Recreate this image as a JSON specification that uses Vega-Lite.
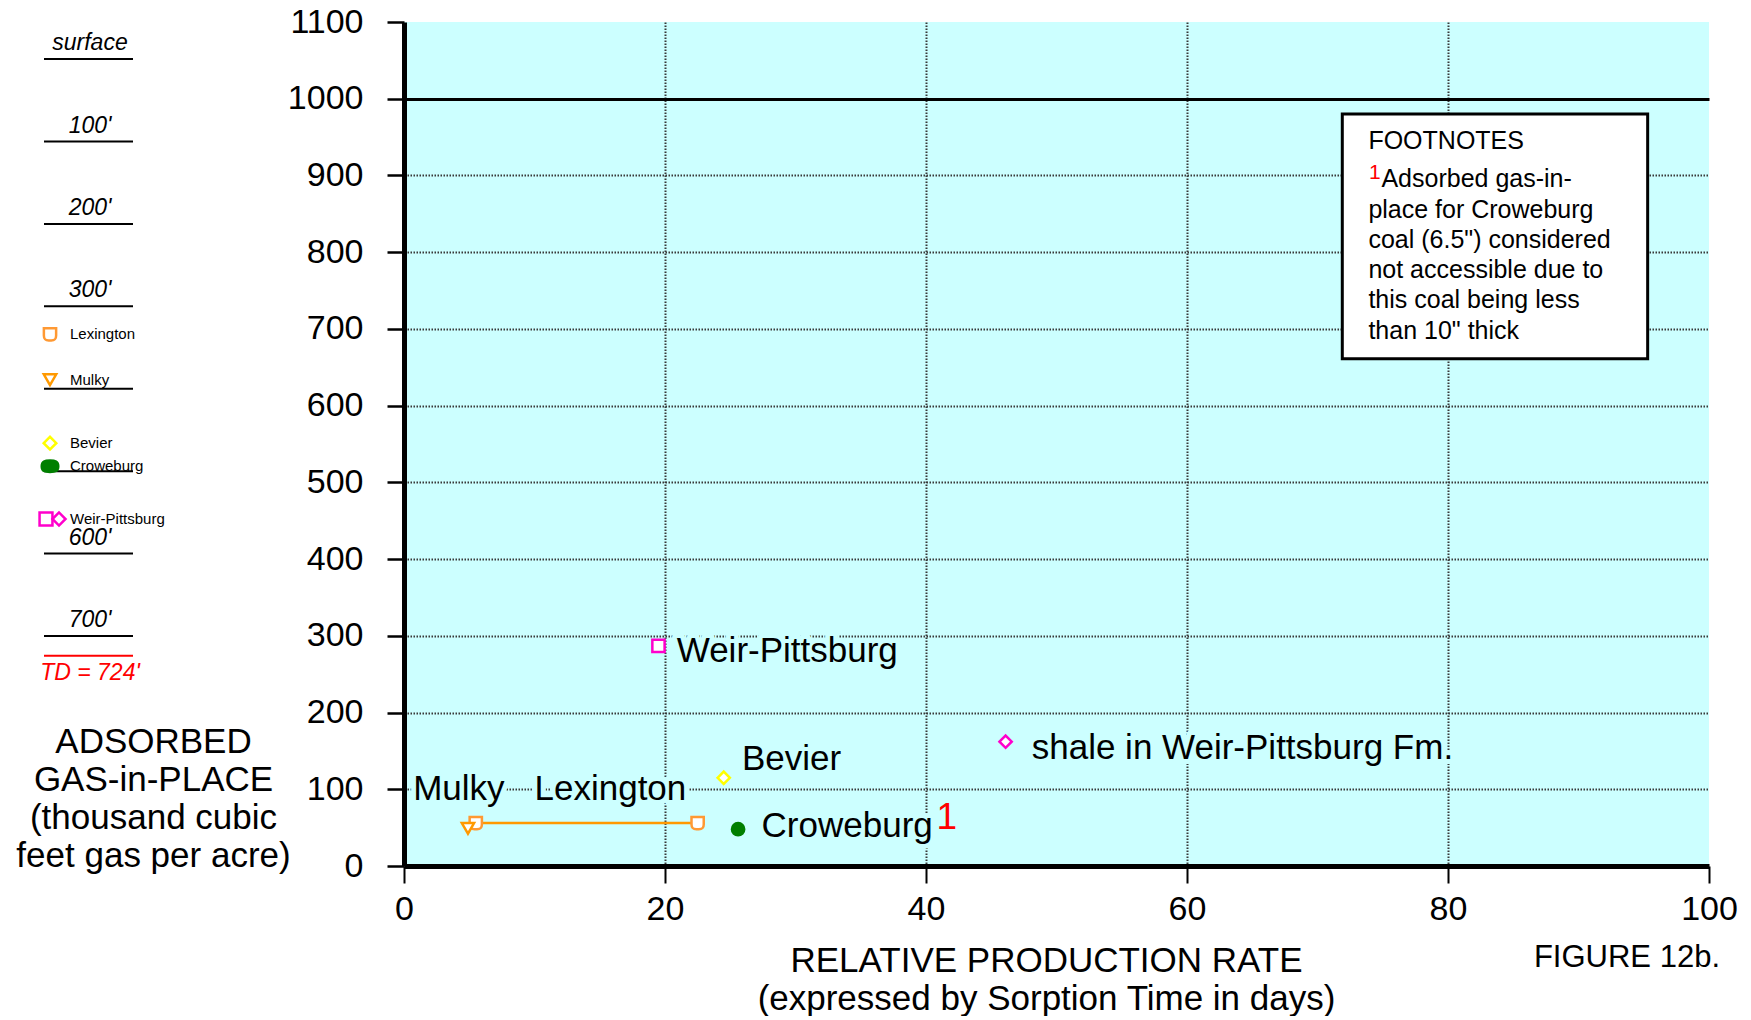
{
  "$schema": "https://vega.github.io/schema/vega-lite/v6.json",
  "background": "white",
  "padding": {"left": 15, "top": 5, "right": 0, "bottom": 0},
  "config": {"font": "Liberation Sans", "view": {"stroke": null}},
  "datasets": {
    "points": [
      {"seam": "Lexington", "time": 5.5, "gas": 56},
      {"seam": "Lexington", "time": 22.5, "gas": 56},
      {"seam": "Mulky", "time": 4.9, "gas": 49},
      {"seam": "Bevier", "time": 24.5, "gas": 115},
      {"seam": "Croweburg", "time": 25.6, "gas": 48},
      {"seam": "Weir-Pittsburg", "time": 19.5, "gas": 287},
      {"seam": "shale", "time": 46.1, "gas": 162}
    ],
    "labels": [
      {"text": "Weir-Pittsburg", "time": 20.9, "gas": 280, "kind": "label"},
      {"text": "shale in Weir-Pittsburg Fm.", "time": 48.1, "gas": 154, "kind": "label"},
      {"text": "Bevier", "time": 25.9, "gas": 140, "kind": "label"},
      {"text": "Mulky", "time": 0.7, "gas": 100, "kind": "label"},
      {"text": "Lexington", "time": 10.0, "gas": 100, "kind": "label"},
      {"text": "Croweburg", "time": 27.4, "gas": 52, "kind": "label"}
    ],
    "sup": [
      {"text": "1", "time": 40.8, "gas": 62}
    ],
    "box": [{"time": 71.9, "time2": 95.3, "gas": 661, "gas2": 980}],
    "notes": [
      {"text": "FOOTNOTES", "time": 73.9, "gas": 934.5, "kind": "line"},
      {"text": "Adsorbed gas-in-", "time": 74.9, "gas": 885, "kind": "line"},
      {"text": "place for Croweburg", "time": 73.9, "gas": 844.5, "kind": "line"},
      {"text": "coal (6.5\") considered", "time": 73.9, "gas": 805, "kind": "line"},
      {"text": "not accessible due to", "time": 73.9, "gas": 766, "kind": "line"},
      {"text": "this coal being less", "time": 73.9, "gas": 727, "kind": "line"},
      {"text": "than 10\" thick", "time": 73.9, "gas": 687, "kind": "line"},
      {"text": "1", "time": 73.95, "gas": 895, "kind": "mark"}
    ],
    "log": [
      {"depth": 0, "label": "surface", "kind": "line"},
      {"depth": 100, "label": "100'", "kind": "line"},
      {"depth": 200, "label": "200'", "kind": "line"},
      {"depth": 300, "label": "300'", "kind": "line"},
      {"depth": 400, "label": "", "kind": "line"},
      {"depth": 500, "label": "", "kind": "line"},
      {"depth": 600, "label": "600'", "kind": "line"},
      {"depth": 700, "label": "700'", "kind": "line"},
      {"depth": 724, "label": "TD = 724'", "kind": "td"}
    ],
    "seams": [
      {"seam": "Lexington", "name": "Lexington", "depth": 334},
      {"seam": "Mulky", "name": "Mulky", "depth": 389},
      {"seam": "Bevier", "name": "Bevier", "depth": 466},
      {"seam": "Croweburg", "name": "Croweburg", "depth": 494},
      {"seam": "Weir-Pittsburg", "name": "Weir-Pittsburg", "depth": 558},
      {"seam": "shale", "name": "", "depth": 558}
    ]
  },
  "bounds": "flush",
  "spacing": 271,
  "resolve": {"scale": {"color": "independent", "shape": "independent", "fill": "independent", "stroke": "independent", "size": "independent", "x": "independent", "y": "independent"}},
  "hconcat": [
    {
      "width": 89,
      "height": 844,
      "layer": [
        {
          "data": {"name": "log"},
          "mark": {"type": "rule", "strokeWidth": 2},
          "encoding": {
            "y": {"field": "depth", "type": "quantitative", "scale": {"domain": [-45, 979], "reverse": true, "nice": false, "zero": false}, "axis": null},
            "color": {"field": "kind", "type": "nominal", "scale": {"domain": ["line", "td"], "range": ["black", "#ff0000"]}, "legend": null}
          }
        },
        {
          "data": {"name": "log"},
          "transform": [{"filter": "datum.label !== ''"}],
          "mark": {"type": "text", "fontSize": 23, "fontStyle": "italic", "baseline": "alphabetic", "align": "center", "xOffset": 1.5, "dy": {"expr": "datum.kind === 'td' ? 24 : -9"}},
          "encoding": {
            "y": {"field": "depth", "type": "quantitative"},
            "text": {"field": "label"},
            "color": {"field": "kind", "type": "nominal", "scale": {"domain": ["line", "td"], "range": ["black", "#ff0000"]}, "legend": null}
          }
        },
        {
          "data": {"name": "seams"},
          "mark": {"type": "point", "filled": true, "opacity": 1, "strokeWidth": 2.5, "xOffset": {"expr": "datum.seam === 'Weir-Pittsburg' ? -42.5 : datum.seam === 'shale' ? -29.5 : -38.5"}},
          "encoding": {
            "y": {"field": "depth", "type": "quantitative"},
            "shape": {"field": "seam", "type": "nominal", "scale": {"domain": ["Lexington", "Mulky", "Bevier", "Croweburg", "Weir-Pittsburg", "shale"], "range": ["M-1,-1H1V0.2C1,0.8 0.8,1 0.2,1H-0.2C-0.8,1 -1,0.8 -1,0.2Z", "triangle-down", "diamond", "M-1.3,0C-1.3,-0.8 -0.8,-0.9 0,-0.9C0.8,-0.9 1.3,-0.8 1.3,0C1.3,0.8 0.8,0.9 0,0.9C-0.8,0.9 -1.3,0.8 -1.3,0Z", "square", "diamond"]}, "legend": null},
            "stroke": {"field": "seam", "type": "nominal", "scale": {"domain": ["Lexington", "Mulky", "Bevier", "Croweburg", "Weir-Pittsburg", "shale"], "range": ["#ff9933", "#ff9900", "#ffff00", "#007f00", "#ff00cc", "#ff00cc"]}, "legend": null},
            "fill": {"field": "seam", "type": "nominal", "scale": {"domain": ["Lexington", "Mulky", "Bevier", "Croweburg", "Weir-Pittsburg", "shale"], "range": ["white", "white", "white", "#007f00", "white", "white"]}, "legend": null},
            "size": {"field": "seam", "type": "nominal", "scale": {"domain": ["Lexington", "Mulky", "Bevier", "Croweburg", "Weir-Pittsburg", "shale"], "range": [150, 170, 170, 130, 100, 160]}, "legend": null}
          }
        },
        {
          "data": {"name": "seams"},
          "transform": [{"filter": "datum.name !== ''"}],
          "mark": {"type": "text", "fontSize": 15, "align": "left", "baseline": "middle", "xOffset": -18.5, "color": "black"},
          "encoding": {
            "y": {"field": "depth", "type": "quantitative"},
            "text": {"field": "name"}
          }
        }
      ]
    },
    {
      "width": 1305,
      "height": 844,
      "view": {"fill": "#ccffff", "stroke": null},
      "title": {"text": "FIGURE 12b.", "orient": "bottom", "anchor": "end", "frame": "group", "offset": -73, "dx": 11, "fontSize": 31, "fontWeight": "normal", "font": "Liberation Sans", "color": "black"},
      "layer": [
        {
          "data": {"name": "points"},
          "transform": [{"filter": "datum.seam === 'Lexington'"}],
          "mark": {"type": "line", "color": "#ff9900", "strokeWidth": 2.5},
          "encoding": {
            "x": {"field": "time", "type": "quantitative"},
            "y": {"field": "gas", "type": "quantitative"}
          }
        },
        {
          "data": {"name": "points"},
          "mark": {"type": "point", "filled": true, "opacity": 1, "strokeWidth": 2.5},
          "encoding": {
            "x": {
              "field": "time", "type": "quantitative",
              "scale": {"domain": [0, 100], "nice": false, "zero": false},
              "axis": {
                "values": [0, 20, 40, 60, 80, 100],
                "format": "d",
                "title": ["RELATIVE PRODUCTION RATE", "(expressed by Sorption Time in days)"],
                "titleFontSize": 35, "titleFontWeight": "normal", "titleColor": "black", "titleLineHeight": 38,
                "titleX": 642, "titleY": 77, "titleAlign": "center",
                "labelFontSize": 34, "labelColor": "black", "labelPadding": 9, "labelFlush": false, "labelOverlap": false,
                "tickSize": 17, "tickWidth": 2, "tickColor": "black",
                "domainColor": "black", "domainWidth": 5,
                "grid": true, "gridColor": "#383838", "gridWidth": 2, "gridDash": [1.5, 1.5],
                "gridOpacity": {"condition": {"test": "datum.value === 100 || datum.value === 0", "value": 0}, "value": 1}
              }
            },
            "y": {
              "field": "gas", "type": "quantitative",
              "scale": {"domain": [0, 1100], "nice": false, "zero": false},
              "axis": {
                "values": [0, 100, 200, 300, 400, 500, 600, 700, 800, 900, 1000, 1100],
                "format": "d",
                "title": ["ADSORBED", "GAS-in-PLACE", "(thousand cubic", "feet gas per acre)"],
                "titleFontSize": 35, "titleFontWeight": "normal", "titleColor": "black", "titleLineHeight": 38,
                "titleAngle": 0, "titleAlign": "center", "titleBaseline": "alphabetic", "titleX": -251, "titleY": 730,
                "labelFontSize": 34, "labelColor": "black", "labelPadding": 24, "labelFlush": false, "labelOverlap": false,
                "tickSize": 17, "tickWidth": 2.5, "tickColor": "black",
                "domainColor": "black", "domainWidth": 5,
                "grid": true,
                "gridColor": {"condition": {"test": "datum.value === 1000", "value": "black"}, "value": "#383838"},
                "gridWidth": {"condition": {"test": "datum.value === 1000", "value": 3}, "value": 2},
                "gridDash": {"condition": {"test": "datum.value === 1000", "value": []}, "value": [1.5, 1.5]},
                "gridOpacity": {"condition": {"test": "datum.value === 1100 || datum.value === 0", "value": 0}, "value": 1}
              }
            },
            "shape": {"field": "seam", "type": "nominal", "scale": {"domain": ["Lexington", "Mulky", "Bevier", "Croweburg", "Weir-Pittsburg", "shale"], "range": ["M-1,-1H1V0.2C1,0.8 0.8,1 0.2,1H-0.2C-0.8,1 -1,0.8 -1,0.2Z", "triangle-down", "diamond", "circle", "square", "diamond"]}, "legend": null},
            "stroke": {"field": "seam", "type": "nominal", "scale": {"domain": ["Lexington", "Mulky", "Bevier", "Croweburg", "Weir-Pittsburg", "shale"], "range": ["#ff9933", "#ff9900", "#ffff00", "#007f00", "#ff00cc", "#ff00cc"]}, "legend": null},
            "fill": {"field": "seam", "type": "nominal", "scale": {"domain": ["Lexington", "Mulky", "Bevier", "Croweburg", "Weir-Pittsburg", "shale"], "range": ["white", "white", "white", "#007f00", "white", "white"]}, "legend": null},
            "size": {"field": "seam", "type": "nominal", "scale": {"domain": ["Lexington", "Mulky", "Bevier", "Croweburg", "Weir-Pittsburg", "shale"], "range": [150, 150, 160, 150, 80, 110]}, "legend": null}
          }
        },
        {
          "data": {"name": "labels"},
          "mark": {"type": "text", "fontSize": 35, "align": "left", "baseline": "middle", "fill": "#ccffff", "stroke": "#ccffff", "strokeWidth": 10, "strokeJoin": "round"},
          "encoding": {
            "x": {"field": "time", "type": "quantitative"},
            "y": {"field": "gas", "type": "quantitative"},
            "text": {"field": "text"}
          }
        },
        {
          "data": {"name": "labels"},
          "mark": {"type": "text", "fontSize": 35, "align": "left", "baseline": "middle", "color": "black"},
          "encoding": {
            "x": {"field": "time", "type": "quantitative"},
            "y": {"field": "gas", "type": "quantitative"},
            "text": {"field": "text"}
          }
        },
        {
          "data": {"name": "sup"},
          "mark": {"type": "text", "fontSize": 37, "align": "left", "baseline": "middle", "color": "#ff0000"},
          "encoding": {
            "x": {"field": "time", "type": "quantitative"},
            "y": {"field": "gas", "type": "quantitative"},
            "text": {"field": "text"}
          }
        },
        {
          "data": {"name": "box"},
          "mark": {"type": "rect", "fill": "white", "stroke": "black", "strokeWidth": 3},
          "encoding": {
            "x": {"field": "time", "type": "quantitative"},
            "x2": {"field": "time2"},
            "y": {"field": "gas", "type": "quantitative"},
            "y2": {"field": "gas2"}
          }
        },
        {
          "data": {"name": "notes"},
          "transform": [{"filter": "datum.kind === 'line'"}],
          "mark": {"type": "text", "fontSize": 25, "align": "left", "baseline": "alphabetic", "color": "black"},
          "encoding": {
            "x": {"field": "time", "type": "quantitative"},
            "y": {"field": "gas", "type": "quantitative"},
            "text": {"field": "text"}
          }
        },
        {
          "data": {"name": "notes"},
          "transform": [{"filter": "datum.kind === 'mark'"}],
          "mark": {"type": "text", "fontSize": 21, "align": "left", "baseline": "alphabetic", "color": "#ff0000"},
          "encoding": {
            "x": {"field": "time", "type": "quantitative"},
            "y": {"field": "gas", "type": "quantitative"},
            "text": {"field": "text"}
          }
        }
      ]
    }
  ]
}
